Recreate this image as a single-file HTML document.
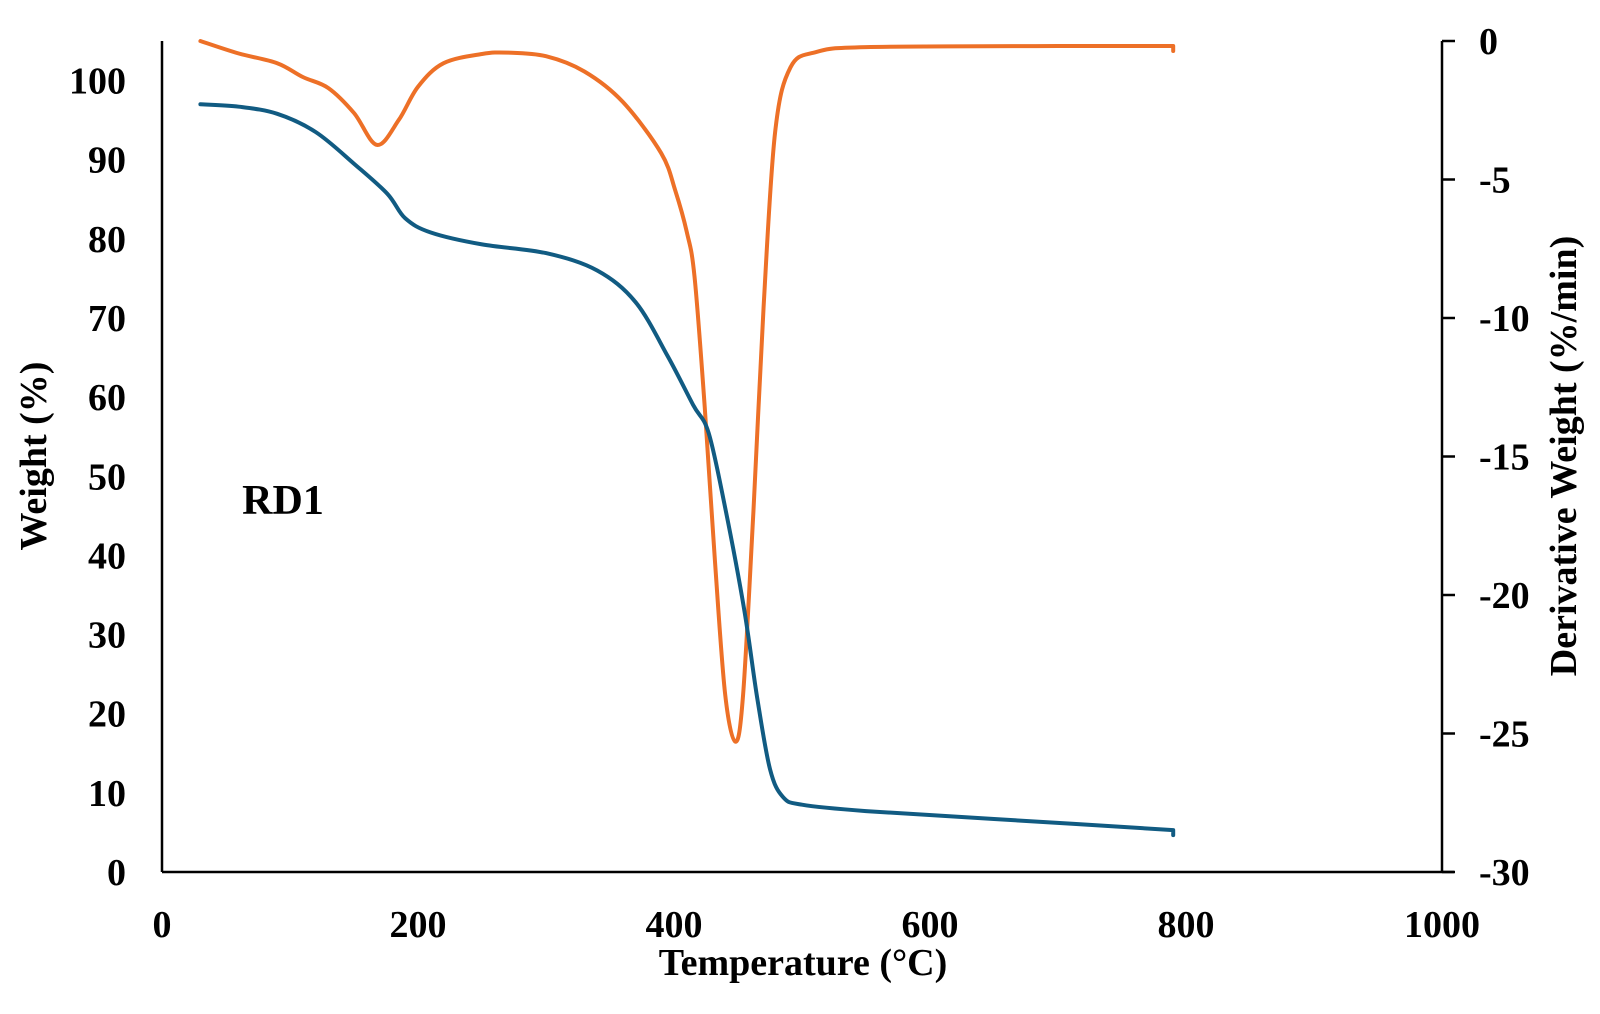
<!DOCTYPE html>
<html><head><meta charset="utf-8"><style>
html,body{margin:0;padding:0;background:#fff;}
svg{display:block;font-family:"Liberation Serif",serif;font-weight:bold;}
</style></head><body>
<svg id="chart" width="1600" height="1014" viewBox="0 0 1600 1014">
<g id="axes"></g>
<g id="plot"></g>
<text x="283" y="514" font-size="42" text-anchor="middle">RD1</text>
<text x="803" y="975" font-size="38" text-anchor="middle">Temperature (°C)</text>
<text transform="translate(46,456) rotate(-90)" font-size="38" text-anchor="middle">Weight (%)</text>
<text transform="translate(1576,456) rotate(-90)" font-size="38" text-anchor="middle">Derivative Weight (%/min)</text>
</svg>
<script>
const xTicks=[0,200,400,600,800,1000];
const yLeftTicks=[0,10,20,30,40,50,60,70,80,90,100];
const yRightTicks=[0,-5,-10,-15,-20,-25,-30];
const weightT=[30,60,90,120,150,176,190,210,250,300,340,370,395,415,427,440,455,465,475,485,500,550,650,790];
const weightV=[97.0,96.7,95.8,93.5,89.5,85.7,82.6,80.8,79.3,78.2,76,72,65.2,59,55.5,46,33,22,13,9.5,8.5,7.7,6.7,5.3];
const derivT=[30,60,90,110,130,150,168,185,200,220,250,270,300,330,360,390,401,410,416,424,432,440,448,454,462,470,479,491,511,550,700,790];
const derivV=[0,-0.45,-0.8,-1.3,-1.7,-2.6,-3.75,-2.85,-1.65,-0.8,-0.47,-0.42,-0.55,-1.1,-2.2,-4.05,-5.4,-6.9,-8.5,-13.2,-18.8,-23.6,-25.3,-23.6,-17,-9.6,-3.3,-0.95,-0.4,-0.22,-0.18,-0.18];

const X0=162,X1=1442,YB=872,YT=41;
const xs=t=>X0+(t-0)/1000*(X1-X0);
const yl=v=>YB-(v/105)*(YB-YT);
const yr=v=>YT+(v/-30)*(YB-YT);
const NS='http://www.w3.org/2000/svg';
const axes=document.getElementById('axes'),plot=document.getElementById('plot');
function mk(tag,attrs,parent,txt){const e=document.createElementNS(NS,tag);for(const k in attrs)e.setAttribute(k,attrs[k]);if(txt!==undefined)e.textContent=txt;parent.appendChild(e);return e;}

let e=mk('line',{x1:X0,y1:YT,x2:X0,y2:YB,stroke:'#000','stroke-width':2.5},axes);


e=mk('line',{x1:X0,y1:YB,x2:X1+12,y2:YB,stroke:'#000','stroke-width':2.5},axes);


e=mk('line',{x1:X1,y1:YT,x2:X1,y2:YB,stroke:'#000','stroke-width':2.5},axes);



xTicks.forEach(t=>{const el=mk('text',{x:xs(t),y:937,'font-size':38,'text-anchor':'middle'},axes,String(t));

});
yLeftTicks.forEach(v=>{const el=mk('text',{x:126,y:yl(v)+13,'font-size':38,'text-anchor':'end'},axes,String(v));

});
yRightTicks.forEach(v=>{const tk=mk('line',{x1:X1,y1:yr(v),x2:X1+13,y2:yr(v),stroke:'#000','stroke-width':2.5},axes);


const el=mk('text',{x:1479,y:yr(v)+13,'font-size':38,'text-anchor':'start'},axes,String(v));

});

function smooth(pts){let d='M'+pts[0][0].toFixed(1)+','+pts[0][1].toFixed(1);
for(let i=0;i<pts.length-1;i++){const p0=pts[i-1]||pts[i],p1=pts[i],p2=pts[i+1],p3=pts[i+2]||p2;
const c1=[p1[0]+(p2[0]-p0[0])/6,p1[1]+(p2[1]-p0[1])/6],c2=[p2[0]-(p3[0]-p1[0])/6,p2[1]-(p3[1]-p1[1])/6];
d+=' C'+c1.map(n=>n.toFixed(1)).join(',')+' '+c2.map(n=>n.toFixed(1)).join(',')+' '+p2[0].toFixed(1)+','+p2[1].toFixed(1);}
return d;}
const wp=weightT.map((t,i)=>[xs(t),yl(weightV[i])]);
const dp=derivT.map((t,i)=>[xs(t),yr(derivV[i])]);
e=mk('path',{d:smooth(dp)+' l0,5',fill:'none',stroke:'#ed7027','stroke-width':4,'stroke-linejoin':'round','stroke-linecap':'round'},plot);


e=mk('path',{d:smooth(wp)+' l0,5',fill:'none',stroke:'#115b82','stroke-width':4,'stroke-linejoin':'round','stroke-linecap':'round'},plot);


</script>
</body></html>
